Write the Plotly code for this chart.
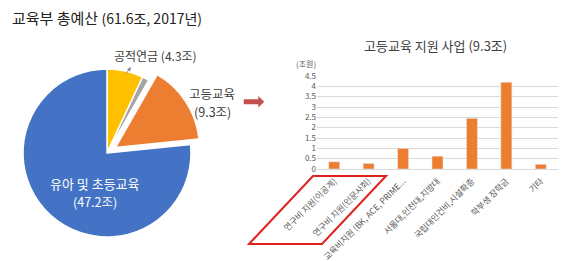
import plotly.graph_objects as go

W, H = 567, 261

# Pie data
pie_labels = ["공적연금", "기타", "고등교육", "유아 및 초등교육"]
pie_values = [4.3, 0.8, 9.3, 47.2]
pie_colors = ["#FFC000", "#A5A5A5", "#ED7D31", "#4472C4"]
pie_pull = [0, 0, 0.12, 0]

# Bar data
bar_cats = ["연구비 지원(이공계)", "연구비 지원(인문사회)", "교육비지원 (BK, ACE, PRIME...",
            "서울대,인천대,지방대", "국립대인건비,시설확충", "학부생 장학금", "기타"]
bar_vals = [0.35, 0.27, 1.0, 0.62, 2.45, 4.2, 0.23]
y_ticks = [0, 0.5, 1, 1.5, 2, 2.5, 3, 3.5, 4, 4.5]
y_tick_text = ["0", "0.5", "1", "1.5", "2", "2.5", "3", "3.5", "4", "4.5"]

FONT = "Noto Sans CJK KR, Malgun Gothic, sans-serif"


def px(x):
    return x / W


def py(y):
    return 1 - y / H


fig = go.Figure()

# Pie
cx, cy, r = 107, 153, 84
half = r * 1.12
fig.add_trace(go.Pie(
    labels=pie_labels, values=pie_values, sort=False, direction="clockwise",
    rotation=0, pull=pie_pull, textinfo="none", hoverinfo="label+value",
    marker=dict(colors=pie_colors, line=dict(color="white", width=1.5)),
    domain=dict(x=[px(cx - half), px(cx + half)], y=[py(cy + half), py(cy - half)]),
    showlegend=False,
))

# Bars
fig.add_trace(go.Bar(
    x=bar_cats, y=bar_vals, marker_color="#ED7D31", width=0.32,
    xaxis="x", yaxis="y", showlegend=False,
))

fig.update_layout(
    width=W, height=H, autosize=False,
    margin=dict(l=0, r=0, t=0, b=0),
    paper_bgcolor="white", plot_bgcolor="white",
    font=dict(family=FONT, color="#404040"),
    xaxis=dict(domain=[px(317), px(558)], automargin=False, tickangle=-45,
               tickfont=dict(size=8.5, color="#595959"), showgrid=False,
               showline=True, linecolor="#D9D9D9", ticks="outside", ticklen=3,
               tickcolor="rgba(0,0,0,0)", fixedrange=True),
    yaxis=dict(domain=[py(169), py(76)], range=[0, 4.5], automargin=False,
               tickvals=y_ticks, ticktext=y_tick_text,
               tickfont=dict(size=8, color="#595959"), showgrid=True,
               gridcolor="#D9D9D9", gridwidth=1, zeroline=False, showline=False,
               ticks="", fixedrange=True),
)

annotations = [
    dict(x=px(10), y=py(17), text="교육부 총예산 <span style='font-size:14px'>(61.6조, 2017년)</span>",
         font=dict(size=15, color="#222222"), xanchor="left", yanchor="middle", showarrow=False),
    dict(x=px(155), y=py(55), text="공적연금 (4.3조)", font=dict(size=12, color="#404040"),
         xanchor="center", yanchor="middle", showarrow=False),
    dict(x=px(212), y=py(93), text="고등교육", font=dict(size=12.5, color="#404040"),
         xanchor="center", yanchor="middle", showarrow=False),
    dict(x=px(212), y=py(111), text="(9.3조)", font=dict(size=12.5, color="#404040"),
         xanchor="center", yanchor="middle", showarrow=False),
    dict(x=px(95), y=py(183), text="유아 및 초등교육", font=dict(size=13, color="white"),
         xanchor="center", yanchor="middle", showarrow=False),
    dict(x=px(95), y=py(201), text="(47.2조)", font=dict(size=12.5, color="white"),
         xanchor="center", yanchor="middle", showarrow=False),
    dict(x=px(435), y=py(45), text="고등교육 지원 사업 (9.3조)", font=dict(size=13, color="#404040"),
         xanchor="center", yanchor="middle", showarrow=False),
    dict(x=px(306), y=py(64), text="(조원)", font=dict(size=8, color="#595959"),
         xanchor="center", yanchor="middle", showarrow=False),
    # small leader arrow for 공적연금
    dict(x=px(131), y=py(67), ax=-6, ay=8, axref="pixel", ayref="pixel",
         text="", showarrow=True, arrowhead=2,
         arrowsize=0.8, arrowwidth=1, arrowcolor="#7F8FA6"),
]
for a in annotations:
    a.setdefault("xref", "paper")
    a.setdefault("yref", "paper")
fig.update_layout(annotations=annotations)

# Red block arrow
arrow_pts = [(244, 99.5), (258.5, 99.5), (258.5, 96.5), (264, 101.7), (258.5, 107),
             (258.5, 104), (244, 104)]
path = "M " + " L ".join(f"{px(x)},{py(y)}" for x, y in arrow_pts) + " Z"
shapes = [
    dict(type="path", path=path, xref="paper", yref="paper",
         fillcolor="#C0504D", line=dict(color="#C0504D", width=0.5)),
]
# Red parallelogram
para = [(313, 176), (386, 176), (322, 244), (249, 244)]
ppath = "M " + " L ".join(f"{px(x)},{py(y)}" for x, y in para) + " Z"
shapes.append(dict(type="path", path=ppath, xref="paper", yref="paper",
                   line=dict(color="#E0201B", width=2)))
fig.update_layout(shapes=shapes)

fig.write_html("out.html")
